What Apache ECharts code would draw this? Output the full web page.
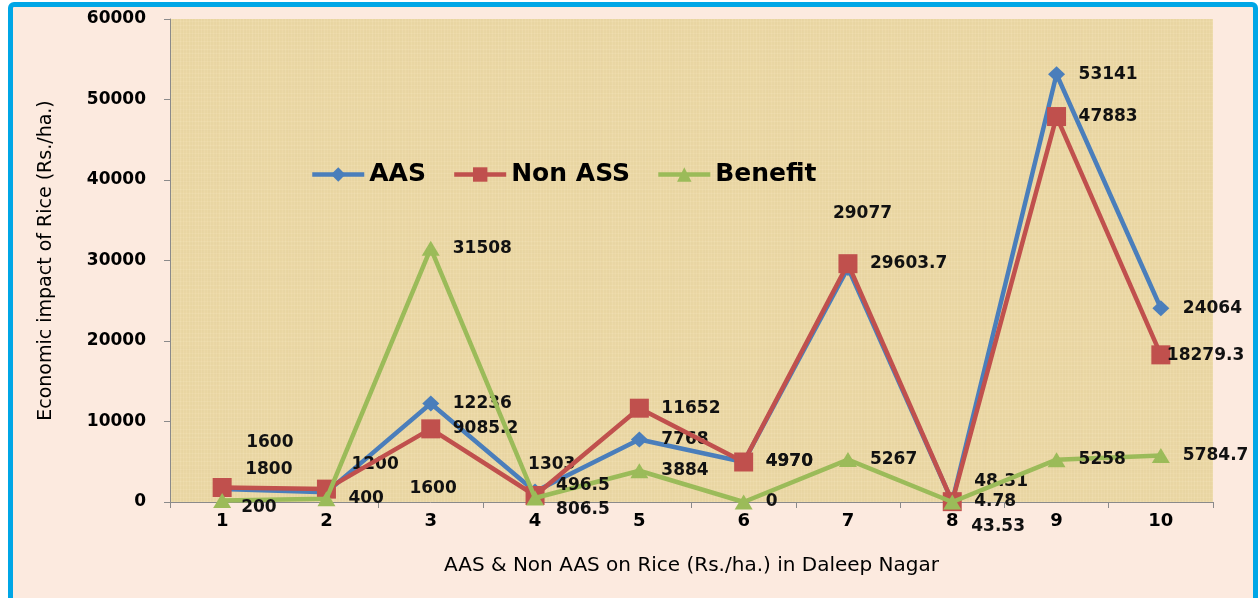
<!DOCTYPE html>
<html>
<head>
<meta charset="utf-8">
<script src="https://cdn.jsdelivr.net/npm/echarts@6/dist/echarts.min.js"></script>
<style>
  html, body { margin: 0; padding: 0; background: #ffffff; width: 1259px; height: 598px; overflow: hidden; }
  #frame { position: absolute; left: 8px; top: 2px; width: 1250px; height: 640px; box-sizing: border-box;
           border: 5px solid #00A6E6; border-radius: 6px; background: #FCEADF; }
  #chart { position: absolute; left: 0; top: 0; width: 1259px; height: 598px; }
</style>
</head>
<body>
<div id="frame"></div>
<div id="chart"></div>
<script>
// ---- data ----
const categories = ['1', '2', '3', '4', '5', '6', '7', '8', '9', '10'];
const aasValues = [1600, 1200, 12236, 1303, 7768, 4970, 29077, 48.31, 53141, 24064];
const nonAasValues = [1800, 1600, 9085.2, 806.5, 11652, 4970, 29603.7, 43.53, 47883, 18279.3];
const benefitValues = [200, 400, 31508, 496.5, 3884, 0, 5267, 4.78, 5258, 5784.7];
const seriesNames = ['AAS', 'Non ASS', 'Benefit'];
const yAxisTitle = 'Economic impact of Rice (Rs./ha.)';
const xAxisTitle = 'AAS & Non AAS on Rice (Rs./ha.) in Daleep Nagar';

// ---- styling ----
const FONT = '"DejaVu Sans", sans-serif';
// label nudges (pixel offsets) for data labels that the original placed away from the default spot
const labelNudges = [
  {0: [4, -46], 1: [5, -27], 3: [-27, -26], 6: [-35, -53], 7: [2, -19]},
  {0: [3, -17], 1: [63, 0], 3: [1, 15], 7: [-1, 26], 9: [-14, 2]},
  {0: [-1, 8], 3: [1, -11]}
];

function makeTexture() {
  const c = document.createElement('canvas');
  c.width = 96; c.height = 96;
  const g = c.getContext('2d');
  g.fillStyle = '#EDDAA8';
  g.fillRect(0, 0, 96, 96);
  for (let i = 0; i < 96; i++) {
    const a = 0.05 + 0.05 * Math.abs(Math.sin(i * 1.7) * Math.cos(i * 0.37));
    g.fillStyle = (i % 3 === 0) ? 'rgba(255,245,215,' + a + ')' : 'rgba(190,160,95,' + (a * 0.5) + ')';
    g.fillRect(i, 0, 1, 96);
    g.fillStyle = (i % 4 === 1) ? 'rgba(255,245,215,' + a + ')' : 'rgba(190,160,95,' + (a * 0.4) + ')';
    g.fillRect(0, i, 96, 1);
  }
  return c;
}

function buildData(values, idx) {
  return values.map((v, i) => {
    const n = labelNudges[idx][i];
    const item = { value: v };
    if (n) item.label = { offset: [n[0] - 2, n[1] - 1] };
    return item;
  });
}

const colors = ['#4A7EBB', '#C0504D', '#9BBB59'];
const symbols = ['diamond', 'rect', 'triangle'];
const symbolSizes = [[17, 16], [19, 19], [18, 15]];
const allValues = [aasValues, nonAasValues, benefitValues];

const chart = echarts.init(document.getElementById('chart'), null, { renderer: 'canvas' });
const option = {
  backgroundColor: 'transparent',
  animation: false,
  color: colors,
  textStyle: { fontFamily: FONT },
  grid: {
    left: 170, top: 19, right: 46, bottom: 96,
    show: true,
    borderWidth: 0,
    backgroundColor: { image: makeTexture(), repeat: 'repeat' }
  },
  legend: {
    left: 305, top: 157,
    itemWidth: 52, itemHeight: 18, itemGap: 26,
    lineStyle: { width: 4.5 },
    textStyle: { fontFamily: FONT, fontWeight: 'bold', fontSize: 25, color: '#000' },
    data: seriesNames
  },
  xAxis: {
    type: 'category',
    data: categories,
    boundaryGap: true,
    axisLine: { lineStyle: { color: '#8A8A8A', width: 1 } },
    axisTick: { show: true, length: 6, lineStyle: { color: '#8A8A8A' } },
    axisLabel: { fontFamily: FONT, fontWeight: 'bold', fontSize: 18, color: '#000', margin: 10 },
    splitLine: { show: false },
    name: xAxisTitle,
    nameLocation: 'middle',
    nameGap: 54,
    nameTextStyle: { fontFamily: FONT, fontSize: 20, color: '#000' }
  },
  yAxis: {
    type: 'value',
    min: 0, max: 60000, interval: 10000,
    axisLine: { show: true, lineStyle: { color: '#8A8A8A', width: 1 } },
    axisTick: { show: true, length: 6, lineStyle: { color: '#8A8A8A' } },
    axisLabel: { fontFamily: FONT, fontWeight: 'bold', fontSize: 17, color: '#000', margin: 24,
                 formatter: v => String(v) },
    splitLine: { show: false },
    name: yAxisTitle,
    nameLocation: 'middle',
    nameGap: 114,
    nameTextStyle: { fontFamily: FONT, fontSize: 19, color: '#000' }
  },
  series: seriesNames.map((name, idx) => ({
    name: name,
    type: 'line',
    data: buildData(allValues[idx], idx),
    symbol: symbols[idx],
    symbolSize: symbolSizes[idx],
    showAllSymbol: true,
    lineStyle: { width: 4.5, color: colors[idx] },
    itemStyle: { color: colors[idx] },
    label: {
      show: true,
      position: 'right',
      distance: 22 - symbolSizes[idx][0] / 2,
      fontFamily: FONT,
      fontWeight: 'bold',
      fontSize: 17,
      color: '#111',
      formatter: p => String(p.value)
    },
    z: 2 + idx
  }))
};
chart.setOption(option);
</script>
</body>
</html>
